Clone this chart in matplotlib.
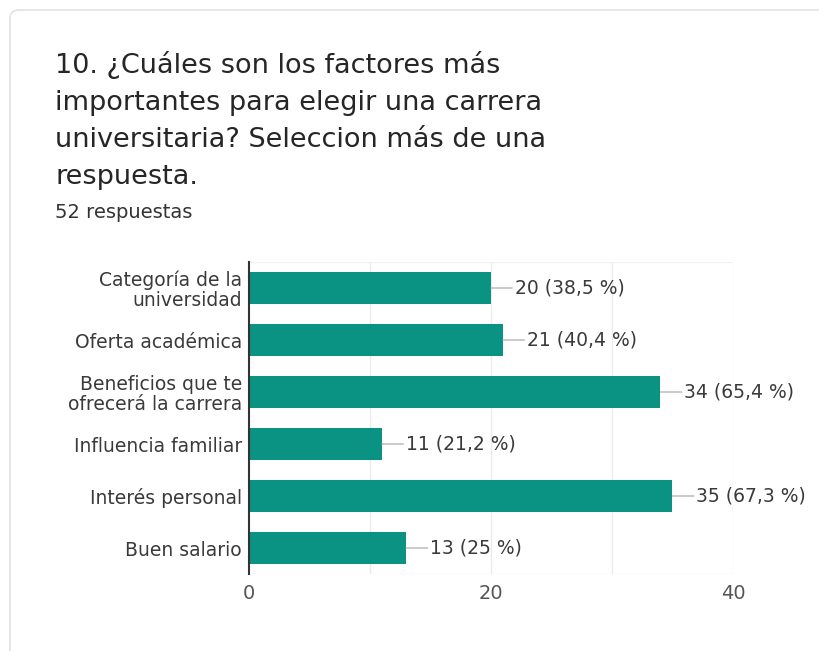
import matplotlib
matplotlib.use("Agg")
import matplotlib.pyplot as plt
from matplotlib.patches import FancyBboxPatch

plt.rcParams['font.family'] = ['DejaVu Sans']

title = "10. ¿Cuáles son los factores más\nimportantes para elegir una carrera\nuniversitaria? Seleccion más de una\nrespuesta."
subtitle = "52 respuestas"
categories = ["Categoría de la\nuniversidad", "Oferta académica", "Beneficios que te\nofrecerá la carrera",
              "Influencia familiar", "Interés personal", "Buen salario"]
counts = [20, 21, 34, 11, 35, 13]
labels = ["20 (38,5 %)", "21 (40,4 %)", "34 (65,4 %)", "11 (21,2 %)", "35 (67,3 %)", "13 (25 %)"]
xticks = [0, 20, 40]
grid_x = [10, 20, 30, 40]

bar_color = '#0a9383'
text_color = '#3a3a3a'

fig = plt.figure(figsize=(8.19, 6.51), dpi=100)
fig.patch.set_facecolor('white')

card = FancyBboxPatch((10/819, -0.05), 1.2, 1 - 10/651 + 0.05,
                      boxstyle="round,pad=0,rounding_size=0.012",
                      transform=fig.transFigure, facecolor='white',
                      edgecolor='#dfe3e6', linewidth=1.2, zorder=-10)
fig.patches.append(card)

fig.text(55/819, 1 - 51/651, title, fontsize=19.5, color='#262626', va='top', ha='left',
         linespacing=1.55)
fig.text(55/819, 1 - 212/651, subtitle, fontsize=14, color='#333333', va='center', ha='left')

ax = fig.add_axes([249/819, 1 - 574/651, (733 - 249)/819, (574 - 262)/651])
ax.set_zorder(5)
ax.patch.set_alpha(0)
y = list(range(len(categories)))
ax.barh(y, counts, height=0.62, color=bar_color, zorder=3)
ax.set_ylim(len(categories) - 0.5, -0.5)
ax.set_xlim(0, 40)
ax.set_yticks(y)
ax.set_yticklabels(categories, fontsize=13.5, color=text_color, linespacing=1.05)
ax.set_xticks(xticks)
ax.set_xticklabels([str(t) for t in xticks], fontsize=14, color='#555555')
ax.tick_params(axis='both', length=0, pad=5)
ax.tick_params(axis='x', pad=7)
for gx in grid_x:
    ax.axvline(gx, color='#ebebeb', lw=1, zorder=1)
for s in ['top', 'right', 'bottom']:
    ax.spines[s].set_visible(False)
ax.axhline(len(categories) - 0.5, color='#ebebeb', lw=1, zorder=1)
ax.axhline(-0.5, color='#f2f2f2', lw=1, zorder=1)
ax.spines['left'].set_color('#333333')
ax.spines['left'].set_linewidth(1.5)
ax.spines['left'].set_zorder(4)

for i, (v, lab) in enumerate(zip(counts, labels)):
    ax.annotate(lab, xy=(v, i), xytext=(24, 0), textcoords='offset pixels',
                va='center', ha='left', fontsize=13.5, color=text_color,
                arrowprops=dict(arrowstyle='-', color='#b5b5b5', lw=1, shrinkA=0, shrinkB=0),
                annotation_clip=False)

fig.savefig('out.png', dpi=100)
